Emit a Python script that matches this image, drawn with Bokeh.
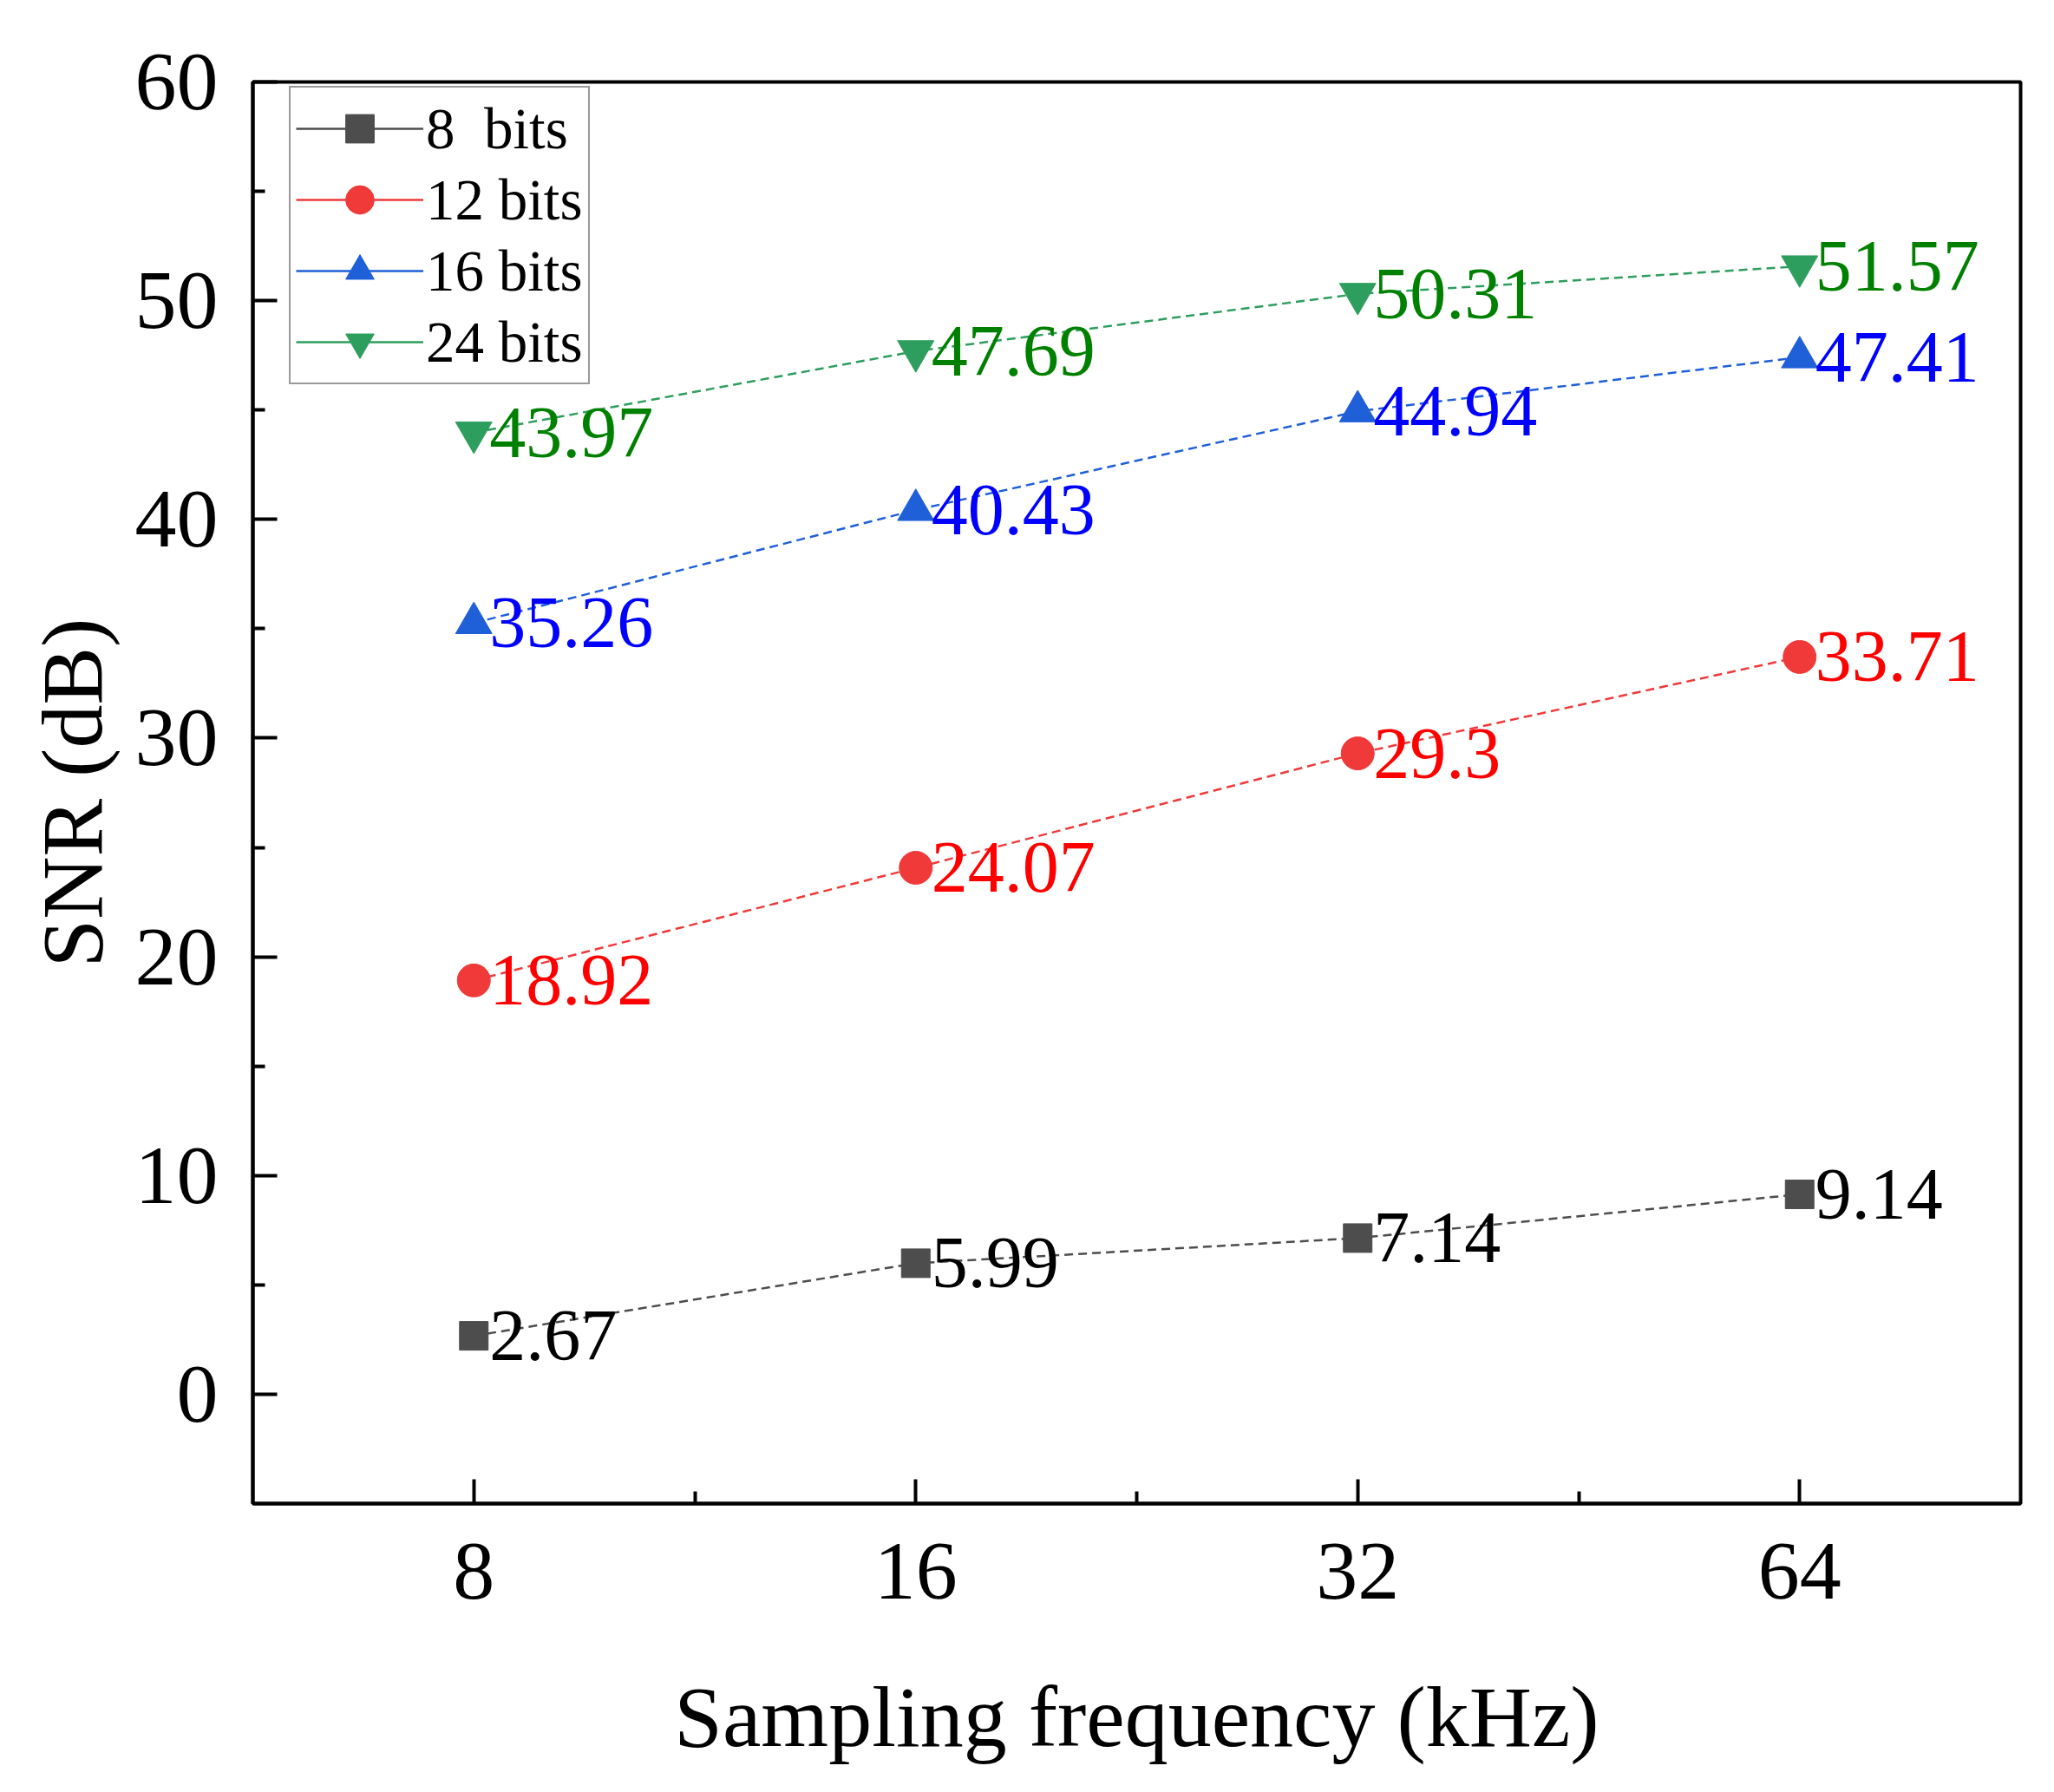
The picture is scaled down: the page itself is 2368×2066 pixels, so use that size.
import math
from bokeh.plotting import figure
from bokeh.models import Range1d, FixedTicker, Legend, LegendItem, ColumnDataSource
from bokeh.core.properties import value
from bokeh.embed import file_html
from bokeh.resources import INLINE

# data
freq_labels = ["8", "16", "32", "64"]
x_pos = [1, 2, 3, 4]
snr_8 = [2.67, 5.99, 7.14, 9.14]
snr_12 = [18.92, 24.07, 29.3, 33.71]
snr_16 = [35.26, 40.43, 44.94, 47.41]
snr_24 = [43.97, 47.69, 50.31, 51.57]
series_names = ["8  bits", "12 bits", "16 bits", "24 bits"]

y_major = [0, 10, 20, 30, 40, 50, 60]
y_minor = [5, 15, 25, 35, 45, 55]
x_minor = [1.5, 2.5, 3.5]

FONT = "Liberation Serif"

W, H = 2350, 2050
BL, BT, BR, BB = 291, 94, 21, 317

p = figure(width=W, height=H, output_backend="svg", toolbar_location=None,
           x_range=Range1d(0.5, 4.5), y_range=Range1d(-5, 60),
           min_border_left=BL, min_border_top=BT, min_border_right=BR, min_border_bottom=BB)
p.background_fill_color = "white"
p.xgrid.visible = False
p.ygrid.visible = False
p.outline_line_color = "black"
p.outline_line_width = 4
p.outline_line_alpha = 1

p.xaxis.ticker = FixedTicker(ticks=x_pos, minor_ticks=x_minor)
p.xaxis.major_label_overrides = {x: lab for x, lab in zip(x_pos, freq_labels)}
p.yaxis.ticker = FixedTicker(ticks=y_major, minor_ticks=y_minor)
p.xaxis.axis_label = "Sampling frequency (kHz)"
p.yaxis.axis_label = "SNR (dB)"

for ax in (p.xaxis[0], p.yaxis[0]):
    ax.axis_line_width = 4
    ax.axis_line_color = "black"
    ax.major_tick_in = 28
    ax.major_tick_out = 0
    ax.minor_tick_in = 14
    ax.minor_tick_out = 0
    ax.major_tick_line_width = 4
    ax.minor_tick_line_width = 4
    ax.major_tick_line_color = "black"
    ax.minor_tick_line_color = "black"
    ax.major_label_text_font = FONT
    ax.major_label_text_font_size = "96px"
    ax.major_label_text_color = "black"
    ax.axis_label_text_font = FONT
    ax.axis_label_text_font_size = "100px"
    ax.axis_label_text_font_style = "normal"
    ax.axis_label_text_color = "black"

p.yaxis.major_label_standoff = 40
p.yaxis.axis_label_standoff = 14
p.xaxis.major_label_standoff = 46
p.xaxis.axis_label_standoff = 78

series = [snr_8, snr_12, snr_16, snr_24]
line_colors = ["#4d4d4d", "#f03a3a", "#1f5fd8", "#2e9e5e"]
text_colors = ["black", "#ff0000", "#0000ff", "#008000"]
markers = ["square", "circle", "triangle", "inverted_triangle"]
msizes = [33, 38, 42, 42]

items = []
for vals, name, lc, tc, mk, ms in zip(series, series_names, line_colors, text_colors, markers, msizes):
    src = ColumnDataSource(dict(x=x_pos, y=vals, t=[str(v) for v in vals]))
    p.line("x", "y", source=src, line_color=lc, line_width=2.5, line_dash="10 6")
    sc = p.scatter("x", "y", source=src, marker=mk, size=ms, fill_color=lc, line_color=lc)
    p.text("x", "y", text="t", source=src, x_offset=18, text_baseline="middle",
           text_align="left", text_font=value(FONT), text_font_size="84px", text_color=tc)
    # solid line used only for the legend swatch
    leg_line = p.line(x=[math.nan], y=[math.nan], line_color=lc, line_width=2.5)
    items.append(LegendItem(label=name, renderers=[leg_line, sc]))

# legend anchored by its bottom-left corner, in pixels from the frame's bottom-left
frame_h = H - BT - BB
leg_pad, row_h = 6, 82
leg_h = 2 * leg_pad + 4 * row_h
legend = Legend(items=items, location=(42, frame_h - 9 - leg_h), margin=0, padding=leg_pad, spacing=0,
                glyph_width=147, glyph_height=row_h, label_height=row_h, label_standoff=3,
                label_text_font=FONT, label_text_font_size="67px", label_text_color="black",
                border_line_color="#333333", border_line_width=2,
                background_fill_color="white", background_fill_alpha=1)
p.add_layout(legend)

open("out.html", "w").write(file_html(p, INLINE))
